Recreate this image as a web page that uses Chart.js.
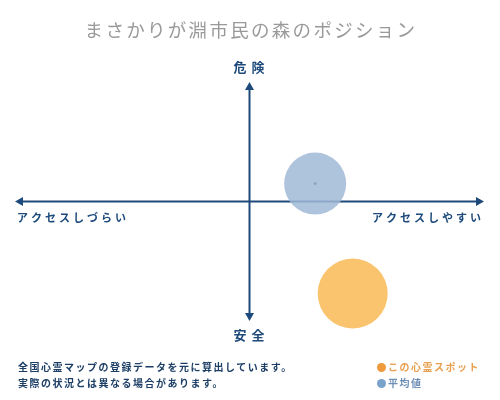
<!DOCTYPE html>
<html><head><meta charset="utf-8">
<script src="https://cdn.jsdelivr.net/npm/chart.js@4"></script>
<style>
html,body{margin:0;padding:0;background:#fff;}
#wrap{position:relative;width:500px;height:400px;}
canvas{position:absolute;left:0;top:0;}
.note{position:absolute;left:18px;top:359px;font-family:"Noto Sans CJK JP";font-weight:bold;font-size:10px;color:#1d3f66;line-height:16px;letter-spacing:1.5px;}
.leg{position:absolute;left:377px;top:359px;font-family:"Noto Sans CJK JP";font-weight:bold;font-size:10px;line-height:16px;letter-spacing:1.5px;}
.leg span.d{display:inline-block;width:9px;height:9px;border-radius:50%;margin-right:2px;vertical-align:-1px;}
</style></head>
<body><div id="wrap"><canvas id="c" width="500" height="400"></canvas>
<div class="note">全国心霊マップの登録データを元に算出しています。<br>実際の状況とは異なる場合があります。</div>
<div class="leg"><div style="color:#e8a050"><span class="d" style="background:#ef9a3c"></span>この心霊スポット</div><div style="color:#6d8fb5"><span class="d" style="background:#7aa3cc"></span>平均値</div></div>
</div>
<script>
const titleText = "まさかりが淵市民の森のポジション";
const axisLabels = {top:"危 険", bottom:"安 全", left:"アクセスしづらい", right:"アクセスしやすい"};
const seriesNames = ["この心霊スポット","平均値"];
const spotPoint = [{x:44, y:-77}];
const avgPoint = [{x:28, y:15}];
const spotRadius = 35;
const avgRadius = 31;

const NAVY = "#1d4a7a";
const axesPlugin = {
  id:"axes",
  beforeDatasetsDraw(chart){
    const {ctx, scales:{x,y}} = chart;
    const x0 = x.getPixelForValue(0), y0 = y.getPixelForValue(0);
    const L = x.getPixelForValue(x.min), R = x.getPixelForValue(x.max);
    const T = y.getPixelForValue(y.max), B = y.getPixelForValue(y.min);
    ctx.save();
    ctx.strokeStyle = NAVY; ctx.fillStyle = NAVY; ctx.lineWidth = 2;
    ctx.beginPath();
    ctx.moveTo(L+5,y0); ctx.lineTo(R-5,y0);
    ctx.moveTo(x0,T+5); ctx.lineTo(x0,B-5);
    ctx.stroke();
    const tri=(pts)=>{ctx.beginPath();ctx.moveTo(...pts[0]);ctx.lineTo(...pts[1]);ctx.lineTo(...pts[2]);ctx.closePath();ctx.fill();};
    tri([[L,y0],[L+8,y0-4.5],[L+8,y0+4.5]]);
    tri([[R,y0],[R-8,y0-4.5],[R-8,y0+4.5]]);
    tri([[x0,T],[x0-4.5,T+8],[x0+4.5,T+8]]);
    tri([[x0,B],[x0-4.5,B-8],[x0+4.5,B-8]]);
    ctx.restore();
  },
  afterDraw(chart){
    const {ctx, scales:{x,y}} = chart;
    const x0 = x.getPixelForValue(0), y0 = y.getPixelForValue(0);
    const T = y.getPixelForValue(y.max), B = y.getPixelForValue(y.min);
    ctx.save();
    ctx.textBaseline = "middle";
    ctx.fillStyle = "#999";
    ctx.font = "18.5px 'Noto Sans CJK JP'";
    ctx.textAlign = "center";
    if (ctx.letterSpacing !== undefined) ctx.letterSpacing = "2.3px";
    ctx.fillText(titleText, 251, 30);
    ctx.fillStyle = NAVY;
    ctx.font = "bold 13px 'Noto Sans CJK JP'";
    ctx.letterSpacing = "1px";
    ctx.fillText(axisLabels.top, x0, T-15);
    ctx.fillText(axisLabels.bottom, x0, B+14);
    ctx.font = "bold 11px 'Noto Sans CJK JP'";
    ctx.letterSpacing = "3px";
    ctx.textAlign = "left";
    ctx.fillText(axisLabels.left, 17, y0+16);
    ctx.textAlign = "right";
    ctx.fillText(axisLabels.right, 484, y0+16);
    ctx.restore();
  }
};

new Chart(document.getElementById("c"), {
  type:"bubble",
  data:{datasets:[
    {label:seriesNames[1], data:avgPoint.map(p=>({...p, r:avgRadius})), backgroundColor:"rgba(160,185,214,0.85)", borderWidth:0, hoverRadius:0, clip:false},
    {label:seriesNames[0], data:spotPoint.map(p=>({...p, r:spotRadius})), backgroundColor:"rgba(250,196,110,1)", borderWidth:0, hoverRadius:0, clip:false},
    {label:"c1", data:avgPoint.map(p=>({...p, r:1.3})), backgroundColor:"#0e1e38", borderWidth:0, clip:false},
    {label:"c2", data:spotPoint.map(p=>({...p, r:2})), backgroundColor:"#f0a020", borderWidth:0, clip:false}
  ]},
  options:{
    responsive:false, animation:false, events:[],
    layout:{autoPadding:false, padding:{left:15,right:16,top:82,bottom:79}},
    plugins:{legend:{display:false}, tooltip:{enabled:false}, title:{display:false}},
    scales:{
      x:{min:-100,max:100,display:false},
      y:{min:-100,max:100,display:false}
    }
  },
  plugins:[axesPlugin]
});
</script></body></html>
